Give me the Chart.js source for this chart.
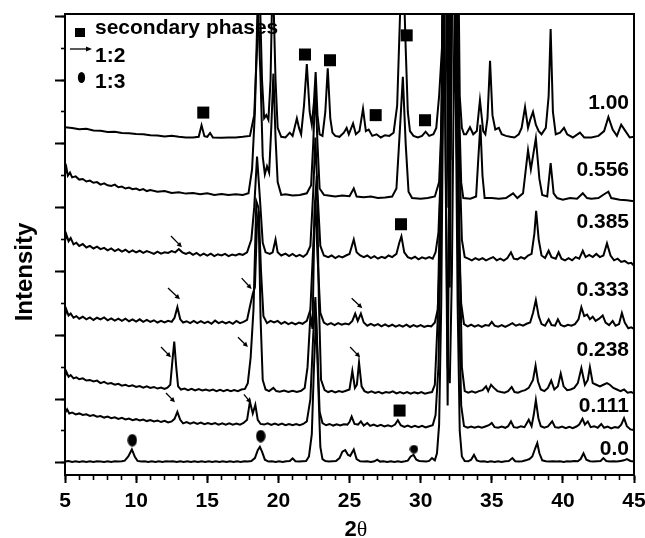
<!DOCTYPE html>
<html><head><meta charset="utf-8">
<script src="https://cdn.jsdelivr.net/npm/chart.js@4.4.1/dist/chart.umd.min.js"></script>
<style>html,body{margin:0;padding:0;background:#fff;}#wrap{width:645px;height:538px;}</style>
</head><body><div id="wrap"><canvas id="c" width="645" height="538"></canvas></div>
<script>
// ---- data (2theta, stacked intensity) ----
const seriesNames = ['1.00','0.556','0.385','0.333','0.238','0.111','0.0'];

const s100 = [[5,10.52],[5.5,10.5],[6,10.46],[6.5,10.47],[7,10.42],[7.5,10.41],[8,10.37],[8.5,10.38],[9,10.34],[9.5,10.33],[10,10.31],[10.5,10.3],[11,10.27],[11.5,10.26],[12,10.23],[12.5,10.25],[13,10.22],[13.5,10.2],[14,10.2],[14.4,10.22],[14.6,10.58],[14.8,10.24],[15.0,10.22],[15.2,10.34],[15.4,10.2],[16,10.19],[16.5,10.2],[17,10.2],[17.5,10.22],[18.0,10.25],[18.3,10.9],[18.5,13],[18.65,15.5],[18.85,12],[19.0,10.8],[19.15,10.9],[19.3,10.75],[19.45,12],[19.6,15.5],[19.8,12],[19.95,10.5],[20.2,10.22],[20.5,10.2],[20.8,10.35],[21.0,10.25],[21.3,10.8],[21.45,10.5],[21.6,10.3],[21.8,11.2],[22.0,12.5],[22.2,11.0],[22.35,10.6],[22.5,11.3],[22.62,12.25],[22.75,10.9],[22.9,10.3],[23.1,10.25],[23.3,11.0],[23.47,12.37],[23.65,10.8],[23.8,10.35],[24.0,10.25],[24.3,10.22],[24.6,10.35],[24.8,10.5],[24.95,10.3],[25.25,10.64],[25.45,10.3],[25.7,10.4],[25.95,11.1],[26.15,10.4],[26.35,10.45],[26.6,10.25],[26.9,10.3],[27.2,10.2],[27.5,10.27],[27.8,10.25],[28.1,10.35],[28.35,11.2],[28.55,14],[28.75,16],[28.95,13],[29.1,11],[29.25,10.4],[29.5,10.25],[29.8,10.2],[30.1,10.25],[30.35,10.38],[30.6,10.25],[30.9,10.3],[31.1,10.5],[31.3,11.5],[31.5,13.0],[31.7,20],[31.9,20],[32.05,13],[32.2,20],[32.55,20],[32.75,11.5],[32.9,10.5],[33.05,10.3],[33.2,10.3],[33.47,10.52],[33.7,10.3],[33.95,10.4],[34.17,11.37],[34.4,10.4],[34.55,10.3],[34.7,10.8],[34.88,12.6],[35.05,10.9],[35.25,10.45],[35.5,10.5],[35.7,10.3],[36.0,10.25],[36.3,10.22],[36.6,10.2],[36.9,10.3],[37.1,10.5],[37.34,11.15],[37.55,10.5],[37.7,10.75],[37.9,11.0],[38.1,10.6],[38.3,10.4],[38.5,10.3],[38.8,10.5],[39.0,11.5],[39.14,13.6],[39.3,11.0],[39.5,10.3],[39.8,10.35],[40.08,10.5],[40.3,10.3],[40.7,10.2],[41.2,10.35],[41.5,10.2],[42.0,10.2],[42.5,10.25],[42.9,10.4],[43.2,10.84],[43.5,10.45],[43.8,10.25],[44.1,10.6],[44.4,10.4],[44.7,10.2],[45,10.22]];

const s556 = [[5,9.05],[5.1,9.25],[5.2,9.0],[5.35,9.1],[5.5,8.95],[5.75,8.98],[6,8.88],[6.25,8.9],[6.5,8.82],[6.75,8.85],[7,8.78],[7.25,8.8],[7.5,8.72],[7.75,8.76],[8,8.7],[8.25,8.68],[8.5,8.72],[8.75,8.64],[9,8.66],[9.25,8.6],[9.5,8.63],[9.75,8.58],[10,8.6],[10.25,8.55],[10.5,8.58],[10.75,8.52],[11,8.55],[11.5,8.5],[12,8.52],[12.5,8.46],[13,8.48],[13.5,8.44],[14,8.46],[14.5,8.42],[15,8.45],[15.5,8.4],[16,8.43],[16.5,8.4],[17,8.42],[17.5,8.4],[17.9,8.45],[18.15,9.2],[18.35,11],[18.55,14.5],[18.75,12],[18.9,9.6],[19.05,9.05],[19.2,9.3],[19.35,9.1],[19.5,10.5],[19.65,12.2],[19.8,10.2],[19.95,8.8],[20.2,8.4],[20.5,8.42],[21,8.38],[21.5,8.4],[22.0,8.45],[22.3,8.7],[22.45,10],[22.6,11.8],[22.75,10],[22.9,8.6],[23.2,8.4],[23.5,8.38],[24,8.35],[24.5,8.38],[25.0,8.36],[25.3,8.6],[25.5,8.35],[26,8.33],[26.5,8.35],[27,8.3],[27.5,8.32],[28.0,8.35],[28.3,8.6],[28.55,10.5],[28.75,12.1],[28.95,10],[29.15,8.5],[29.4,8.3],[30,8.28],[30.5,8.3],[31.0,8.35],[31.3,8.8],[31.5,11],[31.7,18],[31.85,18],[32.0,11.5],[32.15,18],[32.45,18],[32.65,12],[32.85,8.8],[33.0,8.3],[33.5,8.28],[33.9,8.35],[34.05,9.5],[34.2,10.6],[34.35,9.0],[34.5,8.3],[35,8.3],[35.5,8.28],[36,8.3],[36.5,8.45],[36.8,8.3],[37.2,8.45],[37.55,9.8],[37.75,9.2],[38.1,10.17],[38.35,8.9],[38.55,8.4],[38.9,8.35],[39.14,9.4],[39.35,8.45],[39.6,8.3],[40,8.25],[40.5,8.3],[41.0,8.28],[41.4,8.45],[41.7,8.3],[42.0,8.28],[42.5,8.3],[42.9,8.42],[43.2,8.5],[43.4,8.3],[44,8.25],[44.5,8.23],[45,8.2]];

const s385 = [[5,6.95],[5.1,7.15],[5.25,6.95],[5.4,7.05],[5.6,6.85],[5.8,6.9],[6,6.8],[6.25,6.86],[6.5,6.75],[6.75,6.8],[7,6.72],[7.25,6.78],[7.5,6.7],[7.75,6.74],[8,6.66],[8.25,6.72],[8.5,6.64],[8.75,6.7],[9,6.62],[9.25,6.68],[9.5,6.6],[9.75,6.66],[10,6.6],[10.25,6.65],[10.5,6.58],[10.75,6.64],[11,6.6],[11.25,6.55],[11.5,6.62],[11.75,6.56],[12,6.6],[12.25,6.58],[12.5,6.64],[12.75,6.6],[13,6.7],[13.25,6.6],[13.5,6.55],[13.75,6.6],[14,6.52],[14.25,6.58],[14.5,6.5],[14.75,6.56],[15,6.5],[15.25,6.56],[15.5,6.48],[15.75,6.54],[16,6.5],[16.25,6.55],[16.5,6.48],[16.75,6.53],[17,6.5],[17.25,6.55],[17.5,6.52],[17.8,6.6],[18.1,7.0],[18.3,8],[18.5,9.6],[18.7,8.3],[18.9,6.9],[19.1,6.6],[19.4,6.55],[19.6,6.6],[19.8,7.0],[19.95,6.6],[20.2,6.5],[20.5,6.56],[20.75,6.48],[21,6.55],[21.25,6.47],[21.5,6.52],[21.75,6.46],[22.0,6.55],[22.25,6.8],[22.45,8.5],[22.6,10.2],[22.75,8.5],[22.95,6.8],[23.2,6.5],[23.5,6.45],[23.75,6.5],[24,6.42],[24.25,6.48],[24.5,6.44],[24.75,6.5],[25.0,6.55],[25.3,7.0],[25.5,6.6],[25.75,6.5],[26,6.45],[26.25,6.5],[26.5,6.42],[26.75,6.48],[27,6.4],[27.25,6.46],[27.5,6.42],[27.75,6.5],[28.0,6.45],[28.3,6.55],[28.5,6.9],[28.65,7.1],[28.85,6.6],[29.1,6.45],[29.35,6.4],[29.6,6.46],[29.85,6.38],[30.1,6.44],[30.35,6.4],[30.6,6.45],[30.85,6.4],[31.05,6.6],[31.25,7.2],[31.45,9.5],[31.6,16],[31.95,16],[32.1,9.5],[32.25,16],[32.5,16],[32.7,10],[32.9,7],[33.1,6.45],[33.35,6.4],[33.6,6.35],[33.85,6.42],[34.1,6.36],[34.35,6.42],[34.6,6.35],[34.85,6.4],[35.1,6.45],[35.35,6.35],[35.6,6.4],[35.85,6.34],[36.1,6.42],[36.35,6.6],[36.55,6.4],[36.8,6.38],[37.05,6.45],[37.3,6.4],[37.55,6.5],[37.8,6.55],[38.0,7.2],[38.12,7.9],[38.3,7.0],[38.5,6.5],[38.75,6.42],[39.0,6.65],[39.2,6.45],[39.5,6.4],[39.7,6.6],[39.9,6.4],[40.15,6.35],[40.4,6.42],[40.65,6.35],[40.9,6.45],[41.15,6.4],[41.4,6.65],[41.6,6.45],[41.85,6.52],[42.1,6.45],[42.35,6.55],[42.6,6.45],[42.85,6.5],[43.1,6.88],[43.35,6.5],[43.6,6.35],[43.85,6.4],[44.1,6.3],[44.35,6.33],[44.6,6.25],[44.8,6.27],[45,6.18]];

const s333 = [[5,4.6],[5.1,4.8],[5.25,4.62],[5.4,4.68],[5.6,4.55],[5.8,4.6],[6,4.52],[6.25,4.58],[6.5,4.5],[6.75,4.56],[7,4.48],[7.25,4.55],[7.5,4.5],[7.75,4.56],[8,4.47],[8.25,4.53],[8.5,4.46],[8.75,4.52],[9,4.45],[9.25,4.52],[9.5,4.44],[9.75,4.5],[10,4.43],[10.25,4.5],[10.5,4.42],[10.75,4.48],[11,4.42],[11.25,4.47],[11.5,4.4],[11.75,4.45],[12,4.4],[12.25,4.45],[12.5,4.42],[12.7,4.55],[12.9,4.88],[13.1,4.5],[13.3,4.4],[13.55,4.44],[13.8,4.38],[14.05,4.45],[14.3,4.38],[14.55,4.44],[14.8,4.38],[15.05,4.43],[15.3,4.36],[15.55,4.46],[15.8,4.38],[16.05,4.43],[16.3,4.37],[16.55,4.42],[16.8,4.36],[17.05,4.45],[17.3,4.38],[17.55,4.42],[17.8,4.48],[18.0,4.9],[18.2,5.3],[18.35,5.5],[18.5,7.5],[18.62,7.9],[18.78,6],[18.95,4.6],[19.2,4.38],[19.45,4.45],[19.7,4.4],[19.95,4.45],[20.2,4.36],[20.45,4.42],[20.7,4.35],[20.95,4.4],[21.2,4.34],[21.45,4.4],[21.7,4.36],[22.0,4.45],[22.25,4.8],[22.45,6.8],[22.6,8.2],[22.75,6.5],[22.95,4.7],[23.2,4.4],[23.45,4.33],[23.7,4.38],[23.95,4.32],[24.2,4.38],[24.45,4.33],[24.7,4.37],[24.95,4.34],[25.2,4.45],[25.4,4.68],[25.58,4.45],[25.8,4.68],[26.0,4.4],[26.25,4.3],[26.5,4.36],[26.75,4.3],[27.0,4.35],[27.25,4.28],[27.5,4.34],[27.75,4.28],[28.0,4.33],[28.25,4.27],[28.5,4.32],[28.75,4.27],[29.0,4.33],[29.25,4.26],[29.5,4.32],[29.75,4.27],[30.0,4.32],[30.25,4.26],[30.5,4.3],[30.75,4.28],[31.0,4.4],[31.2,4.8],[31.4,7],[31.55,15],[31.8,15],[31.95,8],[32.1,15],[32.4,15],[32.6,8],[32.85,5],[33.05,4.35],[33.3,4.28],[33.55,4.33],[33.8,4.27],[34.05,4.32],[34.3,4.26],[34.55,4.32],[34.8,4.3],[35.0,4.42],[35.2,4.3],[35.45,4.27],[35.7,4.32],[35.95,4.26],[36.2,4.32],[36.45,4.38],[36.7,4.3],[36.95,4.34],[37.2,4.3],[37.45,4.36],[37.7,4.4],[37.9,4.7],[38.1,5.1],[38.3,4.6],[38.5,4.35],[38.75,4.3],[39.0,4.5],[39.2,4.32],[39.45,4.3],[39.65,4.5],[39.85,4.32],[40.1,4.28],[40.35,4.33],[40.6,4.3],[40.85,4.35],[41.1,4.5],[41.3,4.88],[41.5,4.6],[41.7,4.65],[41.9,4.5],[42.1,4.58],[42.3,4.45],[42.55,4.52],[42.8,4.62],[43.0,4.4],[43.25,4.32],[43.5,4.45],[43.7,4.3],[43.95,4.35],[44.15,4.7],[44.35,4.4],[44.6,4.22],[44.8,4.25],[45,4.2]];

const s238 = [[5,2.7],[5.1,2.85],[5.25,2.7],[5.4,2.75],[5.6,2.65],[5.8,2.68],[6,2.62],[6.25,2.65],[6.5,2.58],[6.75,2.6],[7,2.55],[7.25,2.58],[7.5,2.5],[7.75,2.54],[8,2.48],[8.25,2.5],[8.5,2.45],[8.75,2.48],[9,2.42],[9.25,2.45],[9.5,2.4],[9.75,2.43],[10,2.38],[10.25,2.41],[10.5,2.36],[10.75,2.4],[11,2.35],[11.25,2.38],[11.5,2.33],[11.75,2.36],[12,2.32],[12.2,2.36],[12.4,2.45],[12.55,3.2],[12.68,3.8],[12.82,3.0],[12.95,2.4],[13.15,2.3],[13.4,2.33],[13.65,2.28],[13.9,2.32],[14.15,2.27],[14.4,2.31],[14.65,2.27],[14.9,2.3],[15.15,2.26],[15.4,2.3],[15.65,2.25],[15.9,2.29],[16.15,2.25],[16.4,2.29],[16.65,2.25],[16.9,2.28],[17.15,2.25],[17.4,2.3],[17.65,2.32],[17.85,2.5],[18.05,3.3],[18.25,4.8],[18.45,8.2],[18.6,8.0],[18.75,4.5],[18.9,2.6],[19.1,2.3],[19.35,2.25],[19.65,2.35],[19.85,2.25],[20.1,2.23],[20.4,2.27],[20.7,2.22],[21.0,2.26],[21.3,2.22],[21.6,2.26],[21.85,2.35],[22.05,3.0],[22.25,4.6],[22.4,4.2],[22.55,8],[22.7,9],[22.85,5],[23.0,2.6],[23.25,2.28],[23.5,2.22],[23.75,2.26],[24.0,2.21],[24.25,2.25],[24.5,2.22],[24.75,2.26],[25.0,2.3],[25.2,2.88],[25.38,2.35],[25.52,2.45],[25.67,3.15],[25.85,2.4],[26.05,2.25],[26.3,2.2],[26.55,2.24],[26.8,2.19],[27.05,2.23],[27.3,2.18],[27.55,2.22],[27.8,2.2],[28.05,2.24],[28.3,2.18],[28.55,2.22],[28.8,2.18],[29.05,2.22],[29.3,2.17],[29.55,2.21],[29.8,2.18],[30.05,2.22],[30.3,2.17],[30.55,2.2],[30.8,2.22],[31.0,2.45],[31.2,4.5],[31.4,9],[31.6,15],[31.9,15],[32.05,5.5],[32.2,15],[32.5,15],[32.7,8],[32.9,3],[33.1,2.25],[33.35,2.2],[33.6,2.24],[33.85,2.2],[34.1,2.25],[34.35,2.28],[34.6,2.4],[34.75,2.25],[34.95,2.45],[35.15,2.35],[35.4,2.25],[35.65,2.22],[35.9,2.2],[36.15,2.25],[36.4,2.38],[36.6,2.22],[36.85,2.2],[37.1,2.25],[37.35,2.28],[37.6,2.35],[37.9,2.6],[38.08,3.05],[38.25,2.55],[38.45,2.3],[38.7,2.25],[38.95,2.35],[39.18,2.58],[39.4,2.3],[39.65,2.4],[39.85,2.8],[40.05,2.4],[40.3,2.28],[40.55,2.3],[40.8,2.35],[41.05,2.5],[41.3,2.97],[41.55,2.45],[41.75,2.6],[41.9,3.0],[42.1,2.5],[42.35,2.45],[42.6,2.4],[42.85,2.45],[43.1,2.5],[43.3,2.45],[43.55,2.35],[43.8,2.3],[44.05,2.25],[44.3,2.3],[44.55,2.2],[44.8,2.22],[45,2.18]];

const s111 = [[5,1.56],[5.15,1.68],[5.3,1.55],[5.5,1.58],[5.75,1.52],[6,1.55],[6.25,1.5],[6.5,1.52],[6.75,1.47],[7,1.5],[7.25,1.45],[7.5,1.47],[7.75,1.42],[8,1.45],[8.25,1.4],[8.5,1.43],[8.75,1.38],[9,1.41],[9.25,1.36],[9.5,1.39],[9.75,1.34],[10,1.37],[10.25,1.33],[10.5,1.36],[10.75,1.31],[11,1.34],[11.25,1.3],[11.5,1.33],[11.75,1.28],[12,1.32],[12.25,1.27],[12.5,1.3],[12.7,1.38],[12.9,1.6],[13.1,1.35],[13.3,1.24],[13.55,1.28],[13.8,1.23],[14.05,1.27],[14.3,1.22],[14.55,1.26],[14.8,1.21],[15.05,1.25],[15.3,1.21],[15.55,1.25],[15.8,1.2],[16.05,1.24],[16.3,1.2],[16.55,1.24],[16.8,1.2],[17.05,1.23],[17.3,1.2],[17.55,1.25],[17.8,1.35],[18.0,1.92],[18.2,1.55],[18.38,1.82],[18.55,1.35],[18.75,1.22],[19.0,1.2],[19.25,1.24],[19.5,1.19],[19.75,1.23],[20.0,1.19],[20.25,1.23],[20.5,1.18],[20.75,1.22],[21.0,1.18],[21.25,1.22],[21.5,1.18],[21.75,1.22],[22.0,1.3],[22.25,2],[22.45,4],[22.6,5.2],[22.75,3.5],[22.9,1.6],[23.1,1.25],[23.35,1.18],[23.6,1.22],[23.85,1.17],[24.1,1.21],[24.35,1.17],[24.6,1.21],[24.85,1.2],[25.0,1.28],[25.15,1.45],[25.35,1.22],[25.6,1.2],[25.8,1.3],[26.0,1.17],[26.25,1.25],[26.45,1.16],[26.7,1.2],[26.95,1.15],[27.2,1.19],[27.45,1.14],[27.7,1.18],[27.95,1.14],[28.2,1.2],[28.4,1.34],[28.6,1.18],[28.85,1.13],[29.1,1.17],[29.35,1.12],[29.6,1.16],[29.85,1.12],[30.1,1.16],[30.35,1.11],[30.6,1.15],[30.85,1.18],[31.05,1.5],[31.25,3],[31.45,8],[31.65,15],[31.9,1.8],[32.1,15],[32.4,15],[32.65,6],[32.85,1.8],[33.05,1.15],[33.3,1.1],[33.55,1.14],[33.8,1.1],[34.05,1.14],[34.3,1.1],[34.55,1.14],[34.8,1.18],[35.0,1.25],[35.2,1.12],[35.45,1.1],[35.7,1.14],[35.95,1.1],[36.15,1.15],[36.35,1.3],[36.55,1.12],[36.8,1.1],[37.05,1.15],[37.3,1.12],[37.6,1.35],[37.8,1.15],[37.95,1.5],[38.1,1.97],[38.28,1.4],[38.45,1.15],[38.7,1.1],[38.95,1.14],[39.25,1.3],[39.45,1.12],[39.7,1.1],[39.95,1.14],[40.2,1.09],[40.45,1.13],[40.7,1.09],[40.95,1.14],[41.15,1.2],[41.38,1.38],[41.55,1.2],[41.75,1.3],[41.95,1.12],[42.2,1.15],[42.45,1.1],[42.7,1.22],[42.9,1.1],[43.15,1.14],[43.4,1.08],[43.65,1.12],[43.9,1.1],[44.1,1.2],[44.3,1.4],[44.5,1.15],[44.75,1.05],[45,1.03]];

const s000 = [[5,0.04],[5.25,0.06],[5.5,0.03],[5.75,0.05],[6,0.03],[6.25,0.05],[6.5,0.03],[6.75,0.05],[7,0.03],[7.25,0.05],[7.5,0.04],[7.75,0.03],[8,0.05],[8.25,0.03],[8.5,0.05],[8.75,0.04],[9,0.05],[9.2,0.07],[9.45,0.2],[9.7,0.42],[9.9,0.2],[10.1,0.06],[10.35,0.04],[10.6,0.05],[10.85,0.03],[11.1,0.05],[11.35,0.03],[11.6,0.05],[11.85,0.03],[12.1,0.05],[12.35,0.04],[12.6,0.05],[12.85,0.03],[13.1,0.05],[13.35,0.03],[13.6,0.05],[13.85,0.03],[14.1,0.05],[14.35,0.03],[14.6,0.05],[14.85,0.03],[15.1,0.05],[15.35,0.03],[15.6,0.05],[15.85,0.03],[16.1,0.05],[16.35,0.03],[16.6,0.05],[16.85,0.03],[17.1,0.05],[17.35,0.03],[17.6,0.05],[17.85,0.04],[18.1,0.06],[18.35,0.15],[18.55,0.4],[18.7,0.5],[18.85,0.35],[19.05,0.1],[19.3,0.04],[19.55,0.05],[19.8,0.03],[20.05,0.05],[20.3,0.03],[20.55,0.05],[20.8,0.06],[21.0,0.14],[21.2,0.05],[21.45,0.04],[21.7,0.05],[21.95,0.06],[22.15,0.2],[22.35,0.9],[22.5,3],[22.65,4.6],[22.8,2.5],[22.95,0.5],[23.1,0.12],[23.3,0.06],[23.55,0.04],[23.8,0.05],[24.05,0.06],[24.3,0.15],[24.5,0.35],[24.7,0.4],[24.9,0.25],[25.05,0.22],[25.3,0.42],[25.5,0.12],[25.75,0.05],[26.0,0.04],[26.25,0.05],[26.5,0.03],[26.75,0.05],[26.95,0.1],[27.15,0.04],[27.4,0.05],[27.65,0.03],[27.9,0.05],[28.15,0.03],[28.4,0.05],[28.65,0.03],[28.9,0.05],[29.1,0.07],[29.3,0.2],[29.5,0.25],[29.7,0.1],[29.9,0.06],[30.15,0.05],[30.4,0.04],[30.6,0.06],[30.8,0.15],[31.0,0.08],[31.15,0.3],[31.3,1.2],[31.45,5],[31.65,15],[31.9,3],[32.05,2.5],[32.2,6],[32.4,15],[32.6,5],[32.75,1],[32.9,0.2],[33.1,0.06],[33.35,0.05],[33.55,0.1],[33.75,0.25],[33.95,0.08],[34.2,0.04],[34.45,0.05],[34.7,0.03],[34.95,0.05],[35.2,0.03],[35.45,0.05],[35.7,0.03],[35.95,0.05],[36.2,0.06],[36.45,0.15],[36.65,0.05],[36.9,0.04],[37.15,0.05],[37.4,0.08],[37.65,0.12],[37.85,0.2],[38.05,0.45],[38.2,0.62],[38.35,0.3],[38.55,0.08],[38.8,0.05],[39.05,0.04],[39.3,0.05],[39.55,0.04],[39.8,0.05],[40.05,0.03],[40.3,0.05],[40.55,0.04],[40.8,0.06],[41.05,0.05],[41.25,0.12],[41.45,0.3],[41.65,0.1],[41.9,0.05],[42.15,0.04],[42.4,0.05],[42.65,0.06],[42.85,0.15],[43.05,0.06],[43.3,0.04],[43.55,0.05],[43.8,0.04],[44.05,0.06],[44.3,0.08],[44.5,0.12],[44.75,0.06],[45,0.04]];

const xTickValues = [5,10,15,20,25,30,35,40,45];
const legendTexts = ['secondary phases','1:2','1:3'];

// marker annotations (2theta, level)
const squareMarks = [[14.72,10.98],[21.87,12.8],[23.63,12.62],[26.84,10.9],[29.02,13.4],[30.31,10.74],[28.62,7.48],[28.52,1.64]];
const circleMarks = [[9.73,0.71],[18.76,0.84],[29.53,0.43]];
const arrowMarks = [[[12.45,7.11],[13.22,6.76]],[[12.24,5.48],[13.08,5.13]],[[17.42,5.79],[18.12,5.45]],[[25.15,5.16],[25.9,4.85]],[[11.75,3.63],[12.45,3.31]],[[17.16,3.94],[17.86,3.63]],[[25.04,3.63],[25.74,3.31]],[[12.1,2.19],[12.73,1.9]],[[17.58,2.15],[18.08,1.87]]];
const labelLevels = [11.27,9.17,7.53,5.4,3.53,1.77,0.43];

const FONT = '"Liberation Sans", Arial, sans-serif';
const series = [s100,s556,s385,s333,s238,s111,s000];

function ellipseImg(w,h){const c=document.createElement('canvas');c.width=w;c.height=h;const g=c.getContext('2d');g.fillStyle='#000';g.beginPath();g.ellipse(w/2,h/2,w/2-0.3,h/2-0.3,0,0,Math.PI*2);g.fill();return c;}

function arrow(ctx,x1,y1,x2,y2,hl,hw){
  const a=Math.atan2(y2-y1,x2-x1);
  ctx.beginPath();ctx.moveTo(x1,y1);ctx.lineTo(x2-Math.cos(a)*hl*0.8,y2-Math.sin(a)*hl*0.8);ctx.stroke();
  ctx.beginPath();ctx.moveTo(x2,y2);
  ctx.lineTo(x2-Math.cos(a)*hl+Math.sin(a)*hw,y2-Math.sin(a)*hl-Math.cos(a)*hw);
  ctx.lineTo(x2-Math.cos(a)*hl-Math.sin(a)*hw,y2-Math.sin(a)*hl+Math.cos(a)*hw);
  ctx.closePath();ctx.fill();
}

const annot = {
  id:'annot',
  afterDraw(chart){
    const {ctx, chartArea:a, scales:{x,y}} = chart;
    ctx.save();
    ctx.fillStyle='#000';ctx.strokeStyle='#000';
    ctx.lineWidth=1.3;
    arrowMarks.forEach(([t,h])=>arrow(ctx,x.getPixelForValue(t[0]),y.getPixelForValue(t[1]),x.getPixelForValue(h[0]),y.getPixelForValue(h[1]),5,2.5));
    ctx.font='bold 21px '+FONT;ctx.textAlign='right';ctx.textBaseline='middle';
    seriesNames.forEach((n,i)=>ctx.fillText(n,a.right-5,y.getPixelForValue(labelLevels[i])));
    // legend
    const lx=a.left;
    ctx.fillRect(lx+10,a.top+14,10,9);
    ctx.lineWidth=1.3;arrow(ctx,lx+5,a.top+35,lx+27,a.top+35,6,2.5);
    ctx.beginPath();ctx.ellipse(lx+16.5,a.top+63.5,3.6,5.5,0,0,Math.PI*2);ctx.fill();
    ctx.textAlign='left';ctx.textBaseline='alphabetic';
    ctx.fillText(legendTexts[0],lx+30,a.top+20);
    ctx.fillText(legendTexts[1],lx+30,a.top+47.5);
    ctx.fillText(legendTexts[2],lx+30,a.top+73.5);
    // axis titles
    ctx.save();ctx.translate(25,272);ctx.rotate(-Math.PI/2);
    ctx.font='bold 24px '+FONT;ctx.textAlign='center';ctx.textBaseline='middle';
    ctx.fillText('Intensity',0,0);ctx.restore();
    ctx.textBaseline='middle';ctx.textAlign='left';
    ctx.font='bold 22px '+FONT;
    const w2=ctx.measureText('2').width;
    ctx.font='22px "Liberation Serif", serif';
    const wt=ctx.measureText('θ').width;
    const sx=356-(w2+wt)/2;
    ctx.font='bold 22px '+FONT;ctx.fillText('2',sx,530);
    ctx.font='22px "Liberation Serif", serif';ctx.fillText('θ',sx+w2,530);
    ctx.restore();
  }
};

const datasets = series.map((s,i)=>({
  label: seriesNames[i], type:'line',
  data: s.map(p=>({x:p[0],y:p[1]})),
  borderColor:'#000', borderWidth:2, pointRadius:0, tension:0, fill:false,
  xAxisID:'x', yAxisID:'y'
}));
datasets.push({label:'sq',type:'scatter',data:squareMarks.map(p=>({x:p[0],y:p[1]})),pointStyle:'rect',pointRadius:8.5,backgroundColor:'#000',borderColor:'#000',borderWidth:0,xAxisID:'x',yAxisID:'y'});
datasets.push({label:'ci',type:'scatter',data:circleMarks.map(p=>({x:p[0],y:p[1]})),pointStyle:[ellipseImg(10,13),ellipseImg(10,13),ellipseImg(9,9)],pointRadius:6,backgroundColor:'#000',borderWidth:0,xAxisID:'x',yAxisID:'y'});

const fit = v => (s)=>{ if(s.isHorizontal()) s.height=v; else s.width=v; s.paddingLeft=0; s.paddingRight=0; s.paddingTop=0; s.paddingBottom=0; };
const YMIN=-0.38, YMAX=14.07;

new Chart(document.getElementById('c'),{
  type:'line',
  data:{datasets},
  options:{
    responsive:false, animation:false, events:[],
    layout:{padding:{top:14,right:11,left:0,bottom:0}},
    plugins:{legend:{display:false},tooltip:{enabled:false}},
    scales:{
      x:{type:'linear',position:'bottom',weight:1,min:5,max:45,
        afterBuildTicks:s=>{s.ticks=xTickValues.map(v=>({value:v}));},
        ticks:{font:{family:FONT,size:21,weight:'bold'},color:'#000',padding:6,maxRotation:0},
        grid:{drawOnChartArea:false,tickLength:8,tickWidth:2,tickColor:'#000'},
        border:{color:'#000',width:2},afterFit:fit(63)},
      y:{type:'linear',position:'left',weight:1,min:YMIN,max:YMAX,
        ticks:{stepSize:2,display:false,includeBounds:false},
        grid:{drawOnChartArea:false,tickLength:10,tickWidth:2,tickColor:'#000'},
        border:{color:'#000',width:2},afterFit:fit(65)},
      x2:{type:'linear',position:'bottom',weight:0,min:5,max:45,
        ticks:{stepSize:1,display:false,includeBounds:false},
        grid:{drawOnChartArea:false,tickLength:5,tickWidth:1.6,tickColor:'#000'},
        border:{display:false},afterFit:fit(0)},
      y2:{type:'linear',position:'left',weight:0,min:YMIN,max:YMAX,
        ticks:{stepSize:1,display:false,includeBounds:false},
        grid:{drawOnChartArea:false,tickLength:4,tickWidth:1.6,tickColor:'#000'},
        border:{display:false},afterFit:fit(0)},
      xTop:{type:'linear',position:'top',min:5,max:45,
        ticks:{display:false},grid:{display:false,drawTicks:false},
        border:{display:true,color:'#000',width:2},afterFit:fit(0)},
      yRight:{type:'linear',position:'right',min:YMIN,max:YMAX,
        ticks:{display:false},grid:{display:false,drawTicks:false},
        border:{display:true,color:'#000',width:2},afterFit:fit(0)}
    }
  },
  plugins:[annot]
});
</script>
</body></html>
